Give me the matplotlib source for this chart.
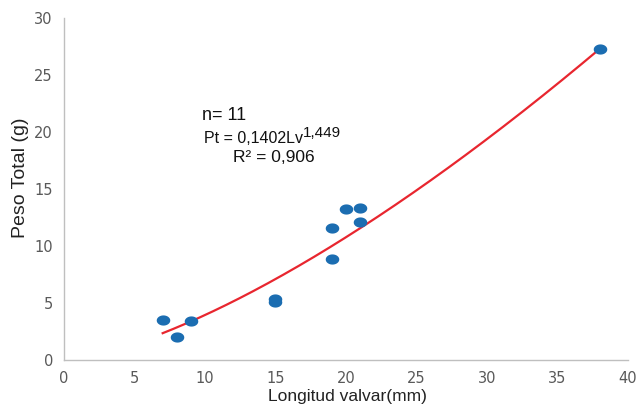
import matplotlib.pyplot as plt
from matplotlib.path import Path
import numpy as np

# data
longitud = [7, 8, 9, 15, 15, 19, 19, 20, 21, 21, 38]
peso = [3.5, 2.0, 3.4, 5.35, 5.1, 11.6, 8.9, 13.2, 13.3, 12.1, 27.3]

coef_a = 0.1402
coef_b = 1.449
fit_range = [7, 38]

x_ticks = [0, 5, 10, 15, 20, 25, 30, 35, 40]
y_ticks = [0, 5, 10, 15, 20, 25, 30]

# slightly wide oval marker, like the source picture
t = np.linspace(0, 2 * np.pi, 60)
oval = Path(np.column_stack([1.33 * np.cos(t), np.sin(t)]), closed=True)

fig = plt.figure(figsize=(6.4, 4.07), dpi=100)
ax = fig.add_axes([0.1, 0.1155, 0.881, 0.8405])

xs = np.linspace(fit_range[0], fit_range[1], 200)
ax.plot(xs, coef_a * xs ** coef_b, color='#e8262f', lw=1.6, zorder=2)
ax.scatter(longitud, peso, s=95, marker=oval, color='#1b6db1', zorder=3, linewidths=0)

ax.set_xlim(0, 40)
ax.set_ylim(0, 30)
ax.set_xticks(x_ticks)
ax.set_yticks(y_ticks)
ax.tick_params(length=0, labelsize=10.5, labelcolor='#595959', pad=8)

for s in ['top', 'right']:
    ax.spines[s].set_visible(False)
for s in ['left', 'bottom']:
    ax.spines[s].set_color('#bfbfbf')
    ax.spines[s].set_linewidth(1)

ax.set_xlabel('Longitud valvar(mm)', family='Liberation Sans',
              fontsize=12.5, color='#222222')
ax.xaxis.set_label_coords(0.502, -0.086)
ax.set_ylabel('Peso Total (g)', family='Liberation Sans',
              fontsize=14, color='#222222')
ax.yaxis.set_label_coords(-0.062, 0.532)

txt = dict(family='Liberation Sans', color='#111111')
ax.text(9.8, 21.4, 'n= 11', fontsize=13, va='center', **txt)
main = ax.text(9.93, 19.4, 'Pt = 0,1402Lv', fontsize=11.5, va='center', **txt)
ax.annotate('1,449', xy=(1, 0.45), xycoords=main, fontsize=11, va='bottom', ha='left', **txt)
ax.text(14.9, 17.8, 'R² = 0,906', fontsize=12.5, va='center', ha='center', **txt)

fig.savefig('out.png', dpi=100)
